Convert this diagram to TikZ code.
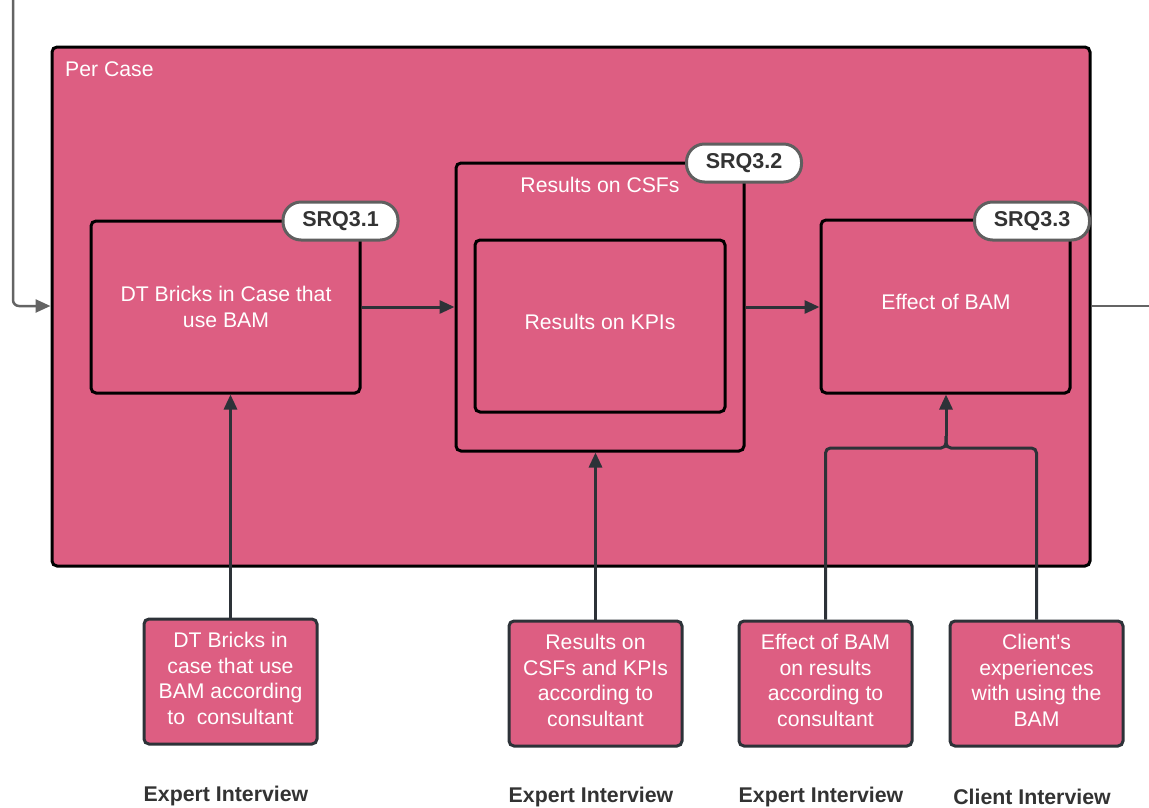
\documentclass[tikz,border=0pt]{standalone}
\usepackage{fontspec}
\setmainfont{Liberation Sans}
\usetikzlibrary{arrows.meta}
\definecolor{pinkf}{RGB}{221,94,130}
\definecolor{conn}{RGB}{45,50,56}
\definecolor{grayl}{RGB}{100,100,100}
\definecolor{pillb}{RGB}{95,95,95}
\definecolor{labtxt}{RGB}{51,51,51}
\tikzset{
  box/.style={draw=black, line width=3pt, fill=pinkf, rounded corners=5pt, text=white, align=center, font=\fontsize{21.2}{25.5}\selectfont, inner sep=0pt},
  srcbox/.style={draw=conn, line width=3pt, fill=pinkf, rounded corners=5pt, text=white, align=center, font=\fontsize{21.2}{25.5}\selectfont, minimum width=173pt, minimum height=125pt, inner sep=0pt},
  wlbl/.style={text=white, align=center, font=\fontsize{21.2}{25.5}\selectfont, inner sep=0pt},
  pill/.style={draw=pillb, line width=3pt, fill=white, rounded corners=18pt, text=labtxt, font=\fontsize{21.5}{24}\selectfont\bfseries, minimum width=115pt, minimum height=38pt, inner sep=0pt},
  conn/.style={draw=conn, line width=3pt, -{Triangle[length=15pt,width=13pt]}},
  connl/.style={draw=conn, line width=3pt, rounded corners=5pt},
  grayarr/.style={draw=grayl, line width=2.5pt, rounded corners=6pt, -{Triangle[length=15pt,width=13pt]}},
  grayln/.style={draw=grayl, line width=2.5pt},
  src/.style={text=labtxt, font=\fontsize{21.3}{24}\selectfont\bfseries, inner sep=0pt},
}
\begin{document}
\begin{tikzpicture}[x=1pt,y=-1pt]
\useasboundingbox (0,0) rectangle (1149,807);
% outer case box
\node[box, minimum width=1038pt, minimum height=519pt] (case) at (571,306.5) {};
\node[wlbl, anchor=west] (caselbl) at (65,69) {Per Case};
% inner boxes
\node[box, minimum width=269pt, minimum height=172pt] (b1) at (225.5,307) {};
\node[wlbl] (b1lbl) at (226,307) {DT Bricks in Case that\\use BAM};
\node[box, minimum width=288pt, minimum height=288pt] (b2) at (600,307) {};
\node[wlbl] (b2lbl) at (600,185) {Results on CSFs};
\node[box, minimum width=250pt, minimum height=172pt] (kpi) at (600,326) {};
\node[wlbl] (kpilbl) at (600,322) {Results on KPIs};
\node[box, minimum width=249pt, minimum height=173pt] (b3) at (945.5,306.5) {};
\node[wlbl] (b3lbl) at (946,302) {Effect of BAM};
% pills
\node[pill] (s1) at (340.5,221) {SRQ3.1};
\node[pill] (s2) at (744,163) {SRQ3.2};
\node[pill] (s3) at (1032,221) {SRQ3.3};
% source boxes
\node[srcbox] (e1) at (230.5,681.5) {};
\node[wlbl] (e1lbl) at (230.5,678.5) {DT Bricks in\\case that use\\BAM according\\to\ \ consultant};
\node[srcbox] (e2) at (595.5,683.5) {};
\node[wlbl] (e2lbl) at (595.5,680.5) {Results on\\CSFs and KPIs\\according to\\consultant};
\node[srcbox] (e3) at (825.5,683.5) {};
\node[wlbl] (e3lbl) at (825.5,680.5) {Effect of BAM\\on results\\according to\\consultant};
\node[srcbox] (e4) at (1036.5,683.5) {};
\node[wlbl] (e4lbl) at (1036.5,680.5) {Client\textquotesingle s\\experiences\\with using the\\BAM};
% source labels
\node[src] (l1) at (226,795.5) {Expert Interview};
\node[src] (l2) at (591,797) {Expert Interview};
\node[src] (l3) at (821,797) {Expert Interview};
\node[src] (l4) at (1032,797) {Client Interview};
% connectors
\coordinate (tin) at (13,0);
\coordinate (tout) at (1149,306);
\draw[grayarr] (tin) |- (case.west |- 0,306);
\draw[grayln] (case.east |- 0,306) -- (tout);
\draw[conn] (b1.east |- 0,307) -- (b2.west |- 0,307);
\draw[conn] (b2.east |- 0,307) -- (b3.west |- 0,307);
\draw[conn] (e1.north) -- (e1.north |- b1.south);
\draw[conn] (e2.north) -- (e2.north |- b2.south);
\coordinate (j) at (946,448);
\coordinate (ju) at (946,436);
\draw[connl] (e3.north) |- (j) -- (ju);
\draw[connl] (e4.north) |- (j) -- (ju);
\draw[conn] (ju) -- (ju |- b3.south);
\end{tikzpicture}
\end{document}
